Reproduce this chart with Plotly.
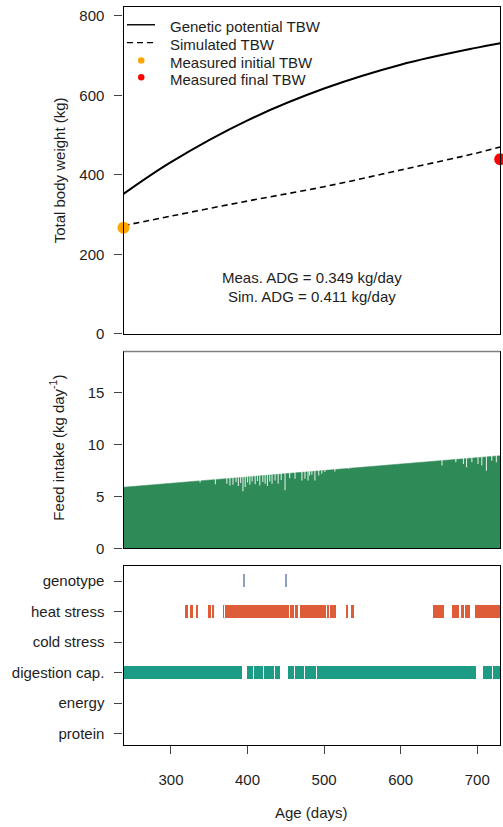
import plotly.graph_objects as go

# ---------------- data ----------------
# Top panel: total body weight (kg) vs age (days)
gen_days = [238, 300, 400, 500, 600, 700, 730]
gen_tbw = [352, 432, 537, 617, 677, 720, 731]
sim_days = [238, 300, 400, 500, 600, 700, 730]
sim_tbw = [272, 296, 334, 370, 412, 455, 470]
init_day, init_tbw = 238, 267
final_day, final_tbw = 730, 439
meas_adg = 0.349
sim_adg = 0.411
legend_labels = ["Genetic potential TBW", "Simulated TBW", "Measured initial TBW", "Measured final TBW"]

# Middle panel: feed intake (kg/day)
feed_days = [238, 469, 655, 730]
feed_vals = [5.9, 7.33, 8.52, 8.95]
dip_days = [338, 358, 373, 377, 381, 385, 388, 391, 394, 397, 400, 403, 406, 410, 413, 416,
            420, 423, 426, 429, 432, 436, 440, 444, 449, 455, 462, 471, 475, 479, 481, 484,
            488, 493, 497, 501, 514, 532, 654, 672, 682, 686, 693, 701, 706, 712, 719, 725]
dip_vals = [6.35, 6.19, 6.24, 6.08, 6.15, 6.4, 6.02, 6.3, 5.51, 5.92, 6.35, 6.15, 6.45, 6.19, 6.5, 6.08,
            6.4, 6.24, 6.02, 6.45, 6.24, 6.55, 6.24, 6.6, 5.6, 6.78, 6.72, 6.56, 6.72, 6.56, 7.04, 7.1,
            6.56, 7.04, 7.2, 7.36, 7.42, 7.68, 7.99, 8.31, 8.15, 7.83, 8.31, 8.15, 7.99, 7.5, 8.47, 8.31]

# Bottom panel: limiting factors (runs of days, inclusive)
factors = ["protein", "energy", "digestion cap.", "cold stress", "heat stress", "genotype"]
genotype_runs = [(395, 395), (450, 450)]
heat_runs = [(319, 321), (326, 327), (333, 334), (349, 351), (354, 355), (368, 368), (371, 372),
             (374, 377), (379, 385), (387, 395), (397, 405), (407, 416), (418, 419), (421, 431),
             (433, 434), (436, 444), (446, 453),
             (456, 456), (459, 459), (462, 464), (469, 470), (472, 473), (475, 477), (480, 484),
             (486, 490), (492, 494), (497, 501), (504, 505), (508, 510), (512, 514), (529, 530), (535, 537),
             (643, 644), (647, 649), (652, 655), (668, 670), (672, 675), (679, 681), (685, 689),
             (697, 699), (701, 708), (710, 716), (719, 720), (722, 723), (725, 727), (729, 730)]
digest_runs = [(238, 318), (320, 328), (330, 335), (337, 344), (346, 351), (353, 355), (357, 365),
               (367, 377), (379, 383), (386, 391), (400, 405), (409, 413), (415, 419), (422, 426),
               (429, 433), (437, 440), (453, 459), (462, 467), (469, 472), (475, 487), (491, 493),
               (495, 497), (499, 501), (503, 511), (513, 529), (532, 600), (602, 653), (656, 661),
               (663, 667), (669, 679), (682, 686), (688, 692), (694, 697), (708, 718), (721, 725),
               (727, 730)]

x_ticks = [300, 400, 500, 600, 700]

# ---------------- styling ----------------
FONT = "Liberation Sans, Arial, sans-serif"
TXT = "#1e1e1e"
FS = 15
W, H = 503, 827


def py(px):  # pixel from top -> paper y
    return 1 - px / H


def pxx(px):  # pixel from left -> paper x
    return px / W


xdom = [123.5 / W, 500.2 / W]
dom1 = [py(337), py(7)]
dom2 = [py(553.7), py(355)]
dom3 = [py(752), py(571.7)]
DASH = "6px,4px"


def expand(runs):
    out = []
    for a, b in runs:
        out.extend(range(a, b + 1))
    return out


fig = go.Figure()

# top panel
fig.add_trace(go.Scatter(x=gen_days, y=gen_tbw, mode="lines", line=dict(color="black", width=2, shape="spline"),
                         showlegend=False, xaxis="x", yaxis="y"))
fig.add_trace(go.Scatter(x=sim_days, y=sim_tbw, mode="lines",
                         line=dict(color="black", width=1.6, dash=DASH, shape="spline"),
                         showlegend=False, xaxis="x", yaxis="y"))
fig.add_trace(go.Scatter(x=[init_day], y=[init_tbw], mode="markers", marker=dict(color="#FFA500", size=12),
                         cliponaxis=False, showlegend=False, xaxis="x", yaxis="y"))
fig.add_trace(go.Scatter(x=[final_day], y=[final_tbw], mode="markers", marker=dict(color="#FF0000", size=12),
                         cliponaxis=False, showlegend=False, xaxis="x", yaxis="y"))

# middle panel: green feed-intake area, then lighter notches for the daily dips
fig.add_trace(go.Scatter(x=feed_days, y=feed_vals, mode="lines", fill="tozeroy", fillcolor="#2E8B57",
                         line=dict(color="#2E8B57", width=0.5), showlegend=False, xaxis="x2", yaxis="y2"))
dip_x, dip_y = [], []
for d, v in zip(dip_days, dip_vals):
    dip_x += [d, d, None]
    dip_y += [v, 9.6, None]
fig.add_trace(go.Scatter(x=dip_x, y=dip_y, mode="lines", line=dict(color="rgba(255,255,255,0.82)", width=1.1),
                         showlegend=False, xaxis="x2", yaxis="y2", hoverinfo="skip"))

# bottom panel
BH = 0.42
for runs, row, color in [(genotype_runs, 6, "#8DA0C4"), (heat_runs, 5, "#DF5C38"), (digest_runs, 3, "#1C9C84")]:
    d = expand(runs)
    fig.add_trace(go.Bar(x=d, y=[BH] * len(d), base=[row - BH / 2] * len(d), width=1.0,
                         marker=dict(color=color, line=dict(width=0)),
                         showlegend=False, xaxis="x3", yaxis="y3"))

axis_common = dict(showline=True, linecolor="black", linewidth=1.2, mirror=True, zeroline=False,
                   showgrid=False, ticklen=8, tickcolor="#444444", tickwidth=1.2,
                   tickfont=dict(family=FONT, size=FS, color=TXT))

fig.update_layout(
    width=W, height=H, margin=dict(l=0, r=0, t=0, b=0),
    paper_bgcolor="white", plot_bgcolor="white",
    barmode="overlay", bargap=0, showlegend=False,
    font=dict(family=FONT, size=FS, color=TXT),
    xaxis=dict(domain=xdom, range=[238, 730], anchor="y", showticklabels=False, ticks="", **axis_common),
    yaxis=dict(domain=dom1, range=[0, 822.4], anchor="x", tickvals=[0, 200, 400, 600, 800],
               ticks="outside", ticklabelstandoff=7, **axis_common),
    xaxis2=dict(domain=xdom, range=[238, 730], anchor="y2", showticklabels=False, ticks="", **axis_common),
    yaxis2=dict(domain=dom2, range=[0, 19], anchor="x2", tickvals=[0, 5, 10, 15],
                ticks="outside", ticklabelstandoff=7, **axis_common),
    xaxis3=dict(domain=xdom, range=[238, 730], anchor="y3", tickvals=x_ticks,
                ticks="outside", ticklabelstandoff=13, **axis_common),
    yaxis3=dict(domain=dom3, range=[0.633, 6.487], anchor="x3", tickvals=list(range(1, 7)), ticktext=factors,
                ticks="outside", ticklabelstandoff=7, **axis_common),
)

# gray top edge of middle panel
fig.add_shape(type="line", xref="x2 domain", yref="y2 domain", x0=0, x1=1, y0=1, y1=1,
              line=dict(color="#808080", width=1.5))

# manual legend (top-left of top panel)
rows = [25, 43, 61, 78]
fig.add_shape(type="line", xref="paper", yref="paper", x0=pxx(127), x1=pxx(155), y0=py(rows[0]), y1=py(rows[0]),
              line=dict(color="black", width=1.4))
fig.add_shape(type="line", xref="paper", yref="paper", x0=pxx(127), x1=pxx(155), y0=py(rows[1]), y1=py(rows[1]),
              line=dict(color="black", width=1.2, dash=DASH))
for r, c in [(rows[2], "#FFA500"), (rows[3], "#FF0000")]:
    fig.add_shape(type="circle", xref="paper", yref="paper", x0=pxx(138), x1=pxx(144.5), y0=py(r + 3.2),
                  y1=py(r - 3.2), fillcolor=c, line=dict(width=0))
for r, t in zip(rows, legend_labels):
    fig.add_annotation(xref="paper", yref="paper", x=pxx(168), y=py(r + 2), text=t, showarrow=False,
                       xanchor="left", yanchor="middle", font=dict(family=FONT, size=FS, color=TXT))

mid = (xdom[0] + xdom[1]) / 2
fig.add_annotation(xref="paper", yref="paper", x=mid, y=py(280.5), xanchor="center", yanchor="middle",
                   text=f"Meas. ADG = {meas_adg:.3f} kg/day", showarrow=False,
                   font=dict(family=FONT, size=FS, color=TXT))
fig.add_annotation(xref="paper", yref="paper", x=mid, y=py(299.5), xanchor="center", yanchor="middle",
                   text=f"Sim. ADG = {sim_adg:.3f} kg/day", showarrow=False,
                   font=dict(family=FONT, size=FS, color=TXT))
fig.add_annotation(xref="paper", yref="paper", x=pxx(59), y=py(172), xanchor="center", yanchor="middle",
                   text="Total body weight (kg)",
                   textangle=-90, showarrow=False, font=dict(family=FONT, size=FS, color=TXT))
fig.add_annotation(xref="paper", yref="paper", x=pxx(57), y=py(452), xanchor="center", yanchor="middle",
                   text="Feed intake (kg day<sup>-1</sup>)",
                   textangle=-90, showarrow=False, font=dict(family=FONT, size=FS, color=TXT))
fig.add_annotation(xref="paper", yref="paper", x=mid, y=py(820), xanchor="center", yanchor="middle",
                   text="Age (days)", showarrow=False, font=dict(family=FONT, size=FS, color=TXT))

fig.write_html("out.html")
